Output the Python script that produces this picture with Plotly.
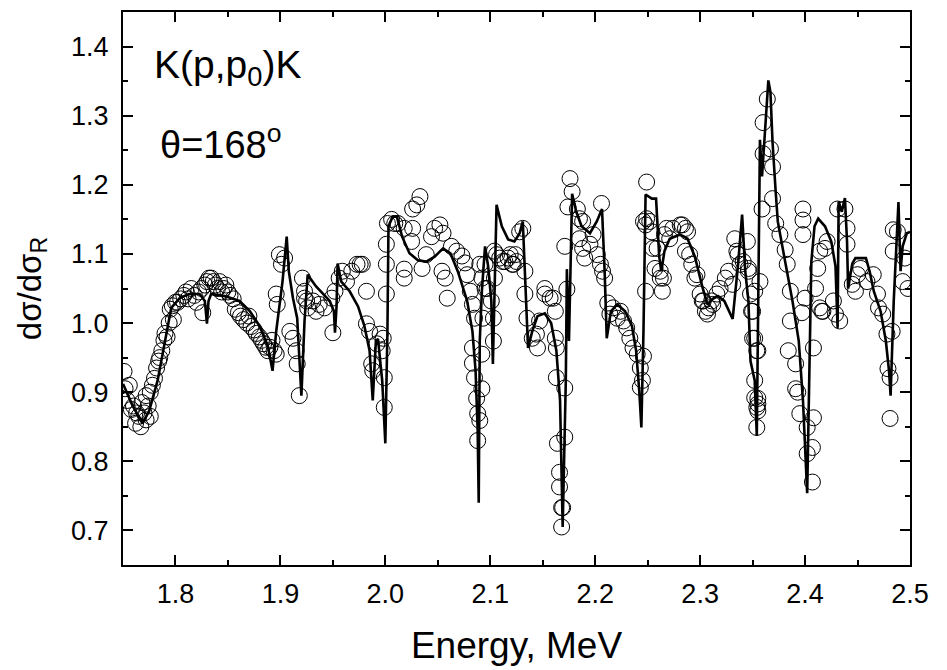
import plotly.graph_objects as go

# ---- fitted curve (R-matrix calculation) ----
curve_E = [1.750, 1.759, 1.7685, 1.775, 1.783, 1.789, 1.796, 1.804, 1.813, 1.823, 1.828, 1.830, 1.8315, 1.834,
           1.847, 1.861, 1.871, 1.880, 1.888, 1.8925, 1.896, 1.902, 1.906, 1.908, 1.912, 1.916, 1.920, 1.923,
           1.926, 1.934, 1.947, 1.951, 1.952, 1.9535, 1.9545, 1.958, 1.966, 1.974, 1.980, 1.985, 1.988, 1.991,
           1.993, 1.997, 2.000, 2.002, 2.003, 2.007, 2.011, 2.016, 2.023, 2.031, 2.039, 2.047, 2.055, 2.062,
           2.069, 2.078, 2.083, 2.086, 2.088, 2.089, 2.090, 2.092, 2.095, 2.098, 2.101, 2.1025, 2.1045, 2.106,
           2.111, 2.117, 2.123, 2.128, 2.131, 2.133, 2.136, 2.140, 2.145, 2.152, 2.158, 2.163, 2.1665, 2.169,
           2.172, 2.173, 2.175, 2.178, 2.182, 2.187, 2.195, 2.2015, 2.2065, 2.209, 2.211, 2.215, 2.221, 2.2285,
           2.235, 2.239, 2.242, 2.244, 2.246, 2.248, 2.254, 2.258, 2.261, 2.263, 2.266, 2.271, 2.281, 2.288,
           2.295, 2.302, 2.307, 2.312, 2.317, 2.323, 2.328, 2.331, 2.336, 2.340, 2.343, 2.346, 2.348, 2.352,
           2.354, 2.356, 2.357, 2.359, 2.361, 2.365, 2.367, 2.369, 2.372, 2.374, 2.381, 2.388, 2.394, 2.398,
           2.402, 2.404, 2.406, 2.409, 2.4125, 2.419, 2.425, 2.429, 2.431, 2.432, 2.435, 2.438, 2.440, 2.441,
           2.445, 2.448, 2.458, 2.4615, 2.4655, 2.472, 2.477, 2.480, 2.4815, 2.4845, 2.487, 2.489, 2.491, 2.493,
           2.497, 2.500]
curve_v = [0.912, 0.881, 0.855, 0.873, 0.917, 0.967, 1.022, 1.036, 1.042, 1.042, 1.032, 0.999, 1.032, 1.042,
           1.039, 1.032, 1.017, 0.996, 0.967, 0.931, 0.988, 1.060, 1.125, 1.075, 1.036, 1.007, 0.895, 1.003,
           1.070, 1.053, 1.032, 1.017, 0.986, 1.024, 1.086, 1.060, 1.046, 1.024, 0.996, 0.960, 0.888, 0.974,
           0.977, 0.917, 0.826, 0.988, 1.140, 1.154, 1.154, 1.125, 1.101, 1.091, 1.089, 1.096, 1.108, 1.101,
           1.075, 1.032, 0.988, 0.931, 0.845, 0.740, 0.974, 1.046, 1.111, 1.082, 1.032, 0.941, 1.075, 1.171,
           1.140, 1.121, 1.118, 1.130, 1.147, 1.075, 0.964, 0.988, 1.010, 1.014, 1.000, 0.960, 0.888, 0.705,
           0.917, 1.078, 0.974, 1.187, 1.161, 1.140, 1.130, 1.147, 1.165, 1.075, 0.978, 1.017, 1.027, 1.017,
           0.996, 0.960, 0.902, 0.849, 0.988, 1.186, 1.180, 1.180, 1.096, 1.075, 1.104, 1.122, 1.128, 1.122,
           1.096, 1.053, 1.027, 1.035, 1.039, 1.032, 1.017, 1.006, 1.082, 1.157, 1.075, 1.032, 0.945, 0.917,
           0.837, 1.176, 1.265, 1.212, 1.262, 1.351, 1.334, 1.262, 1.190, 1.147, 1.089, 1.032, 0.974, 0.888,
           0.754, 0.917, 1.089, 1.140, 1.151, 1.140, 1.118, 1.082, 0.993, 1.176, 1.161, 1.181, 1.118, 1.050,
           1.086, 1.094, 1.094, 1.075, 1.046, 1.017, 0.974, 0.931, 0.895, 1.032, 1.118, 1.175, 1.075, 1.111,
           1.130, 1.132]

exp_E = [
    # 1.75 - 1.80
    1.751, 1.752, 1.754, 1.756, 1.758, 1.760, 1.762, 1.763, 1.765, 1.767, 1.768, 1.770, 1.772, 1.772, 1.774,
    1.776, 1.776, 1.778, 1.780, 1.782, 1.784, 1.785, 1.787, 1.789, 1.790, 1.792, 1.794, 1.795, 1.797, 1.798, 1.800,
    # 1.80 - 1.85
    1.802, 1.805, 1.808, 1.810, 1.812, 1.815, 1.818, 1.820, 1.822, 1.825, 1.826, 1.828, 1.830, 1.832, 1.834,
    1.836, 1.838, 1.840, 1.842, 1.844, 1.846, 1.848, 1.850,
    # 1.85 - 1.93
    1.852, 1.855, 1.857, 1.860, 1.862, 1.865, 1.868, 1.870, 1.872, 1.875, 1.877, 1.880, 1.882, 1.884, 1.886,
    1.888, 1.890, 1.892, 1.894, 1.896, 1.899, 1.901, 1.904, 1.896, 1.897, 1.909, 1.912, 1.915, 1.916, 1.918,
    1.921, 1.923, 1.925,
    # 1.92 - 2.01
    1.923, 1.926, 1.931, 1.934, 1.937, 1.942, 1.949, 1.952, 1.950, 1.956, 1.959, 1.963, 1.968, 1.973, 1.976,
    1.978, 1.982, 1.982, 1.985, 1.987, 1.988, 1.992, 1.995, 1.998, 1.997, 1.999, 1.999, 2.001, 2.001, 2.001,
    2.002, 2.006, 2.009,
    # 2.01 - 2.125
    2.012, 2.018, 2.026, 2.026, 2.030, 2.033, 2.018, 2.018, 2.025, 2.035, 2.039, 2.044, 2.047, 2.052, 2.055,
    2.054, 2.057, 2.059, 2.063, 2.068, 2.073, 2.076, 2.078, 2.081, 2.083, 2.085, 2.083, 2.083, 2.085, 2.087,
    2.088, 2.088, 2.090, 2.092, 2.092, 2.093, 2.097, 2.095, 2.101, 2.103, 2.103, 2.104, 2.106, 2.112, 2.117,
    2.122, 2.090, 2.092, 2.095, 2.104, 2.109, 2.114, 2.121, 2.124,
    # 2.12 - 2.31
    2.119, 2.125, 2.128, 2.131, 2.133, 2.133, 2.135, 2.140, 2.145, 2.144, 2.147, 2.152, 2.152, 2.157, 2.160,
    2.162, 2.162, 2.163, 2.163, 2.164, 2.166, 2.166, 2.168, 2.169, 2.168, 2.171, 2.171, 2.173, 2.171, 2.174,
    2.176, 2.178, 2.183, 2.185, 2.188, 2.185, 2.188, 2.190, 2.195, 2.198, 2.202, 2.205, 2.206, 2.207, 2.209,
    2.212, 2.214, 2.217, 2.221, 2.224, 2.227, 2.230, 2.233, 2.236, 2.240, 2.243, 2.245, 2.243, 2.246, 2.248,
    2.248, 2.249, 2.249, 2.254, 2.259, 2.262, 2.264, 2.265, 2.268, 2.271, 2.274, 2.283, 2.288, 2.286, 2.290,
    2.292, 2.297, 2.300, 2.302, 2.305, 2.308, 2.311,
    # 2.24 - 2.50
    2.246, 2.252, 2.255, 2.257, 2.262, 2.266, 2.281, 2.286, 2.295, 2.303, 2.307, 2.312, 2.316, 2.319, 2.324,
    2.327, 2.331, 2.333, 2.335, 2.336, 2.338, 2.345, 2.346, 2.348, 2.349, 2.350, 2.355, 2.352, 2.352, 2.354,
    2.355, 2.354, 2.357, 2.359, 2.360, 2.360, 2.364, 2.367, 2.369, 2.369, 2.372, 2.376, 2.381, 2.383, 2.386,
    2.386, 2.384, 2.391, 2.391, 2.393, 2.395, 2.402, 2.402, 2.407, 2.407, 2.408, 2.408, 2.410, 2.412, 2.398,
    2.398, 2.398, 2.414, 2.419, 2.421, 2.414, 2.417, 2.427, 2.429, 2.433, 2.431, 2.438, 2.440, 2.440, 2.445,
    2.450, 2.453, 2.459, 2.465, 2.469, 2.470, 2.474, 2.478, 2.479, 2.481, 2.481, 2.483, 2.484, 2.488, 2.484,
    2.495, 2.493, 2.498, 2.341, 2.346, 2.352, 2.350, 2.352, 2.354, 2.355, 2.355, 2.400, 2.397, 2.416, 2.448,
]
exp_v = [
    0.930, 0.905, 0.888, 0.910, 0.875, 0.880, 0.855, 0.870, 0.865, 0.850, 0.885, 0.870, 0.860, 0.895, 0.880,
    0.865, 0.900, 0.910, 0.920, 0.935, 0.945, 0.950, 0.960, 0.975, 0.985, 0.980, 1.000, 1.020, 1.025, 1.005, 1.030,
    1.030, 1.035, 1.040, 1.045, 1.035, 1.050, 1.040, 1.030, 1.045, 1.050, 1.015, 1.055, 1.060, 1.065, 1.065,
    1.060, 1.055, 1.050, 1.060, 1.045, 1.050, 1.055, 1.045,
    1.040, 1.035, 1.020, 1.015, 1.010, 1.005, 1.000, 1.010, 0.995, 0.990, 0.985, 0.980, 0.975, 0.970, 0.965,
    0.960, 0.965, 0.975, 0.960, 0.955, 1.099, 1.085, 1.094, 1.042, 1.027, 0.988, 0.978, 0.960, 0.941, 0.895,
    1.065, 1.046, 1.032,
    1.036, 1.022, 1.032, 1.017, 1.027, 1.022, 1.036, 1.046, 0.986, 1.065, 1.075, 1.060, 1.075, 1.085, 1.085,
    1.085, 1.046, 0.999, 0.988, 0.941, 0.931, 0.970, 0.984, 0.978, 0.960, 0.921, 0.878, 1.042, 1.085, 1.114,
    1.144, 1.150, 1.144,
    1.144, 1.137, 1.137, 1.165, 1.171, 1.183, 1.078, 1.065, 1.118, 1.079, 1.099, 1.125, 1.137, 1.142, 1.130,
    1.075, 1.065, 1.036, 1.111, 1.104, 1.097, 1.087, 1.070, 1.046, 1.027, 1.007, 0.964, 0.942, 0.921, 0.891,
    0.869, 0.830, 0.859, 0.905, 0.955, 1.007, 1.050, 1.085, 1.032, 0.974, 1.007, 1.065, 1.099, 1.089, 1.094,
    1.085, 1.085, 1.065, 1.050, 1.104, 1.094, 1.089, 1.085, 1.099,
    1.099, 1.089, 1.132, 1.137, 1.075, 1.042, 1.007, 0.978, 0.964, 0.984, 1.003, 1.050, 1.042, 1.036, 1.036,
    1.017, 0.978, 0.964, 0.921, 0.826, 0.784, 0.763, 0.733, 0.733, 0.705, 0.835, 0.906, 1.049, 1.111, 1.168,
    1.209, 1.190, 1.165, 1.151, 1.147, 1.122, 1.108, 1.094, 1.114, 1.128, 1.099, 1.085, 1.173, 1.075, 1.065,
    1.029, 1.013, 1.022, 1.007, 1.017, 1.003, 0.993, 0.978, 0.964, 0.955, 0.935, 0.917, 0.907, 0.952, 1.046,
    1.142, 1.151, 1.204, 1.132, 1.108, 1.075, 1.046, 1.065, 1.137, 1.122, 1.137, 1.142, 1.132, 1.104, 1.099,
    1.085, 1.070, 1.042, 1.032, 1.017, 1.022, 1.032,
    1.147, 1.147, 1.108, 1.079, 1.065, 1.128, 1.142, 1.137, 1.065, 1.032, 1.013, 1.027, 1.042, 1.050, 1.065,
    1.075, 1.056, 1.122, 1.104, 1.099, 1.085, 1.118, 1.079, 1.042, 1.017, 0.978, 0.960, 0.917, 0.892, 0.878,
    0.883, 0.849, 1.060, 1.165, 1.245, 1.290, 1.324, 1.252, 1.226, 1.180, 1.144, 1.128, 1.106, 1.085, 1.046,
    1.003, 0.960, 0.941, 0.905, 0.900, 0.869, 0.849, 0.811, 0.820, 0.770, 0.863, 0.964, 1.050, 1.079, 1.165,
    1.149, 1.128, 1.104, 1.108, 1.118, 1.022, 1.017, 1.032, 1.013, 1.003, 1.165, 1.165, 1.137, 1.114, 1.056,
    1.070, 1.079, 1.060, 1.070, 1.042, 1.022, 1.013, 0.984, 0.934, 0.921, 0.862, 0.988, 1.135, 1.132, 1.104,
    1.094, 1.060, 1.050, 1.089, 1.075, 1.046, 1.017, 0.978, 0.960, 0.891, 0.873, 1.036, 1.015, 1.017, 1.046,
]

x_ticks = [1.8, 1.9, 2.0, 2.1, 2.2, 2.3, 2.4, 2.5]
y_ticks = [0.7, 0.8, 0.9, 1.0, 1.1, 1.2, 1.3, 1.4]

FONT = "Arial, Liberation Sans, Helvetica, sans-serif"

fig = go.Figure()
fig.add_trace(go.Scatter(
    x=exp_E, y=exp_v, mode="markers",
    marker=dict(symbol="circle-open", size=16, color="black", line=dict(width=1, color="black")),
    showlegend=False, hoverinfo="skip"))
fig.add_trace(go.Scatter(
    x=curve_E, y=curve_v, mode="lines",
    line=dict(color="black", width=2.6),
    showlegend=False, hoverinfo="skip"))

axis_common = dict(
    showline=True, linecolor="black", linewidth=2, mirror="allticks",
    ticks="inside", ticklen=10, tickwidth=2, tickcolor="black",
    showgrid=False, zeroline=False,
    tickfont=dict(family=FONT, size=27, color="black"),
)

fig.update_xaxes(range=[1.75, 2.5], tickvals=x_ticks, ticktext=[f"{t:.1f}" for t in x_ticks],
                 ticklabelstandoff=4,
                 minor=dict(ticks="inside", ticklen=5, tickwidth=2, tickcolor="black", dtick=0.05, tick0=1.75),
                 title=dict(text="Energy, MeV", font=dict(family=FONT, size=37, color="black"), standoff=24),
                 **axis_common)
fig.update_yaxes(range=[0.65, 1.45], tickvals=y_ticks, ticktext=[f"{t:.1f}" for t in y_ticks],
                 ticklabelstandoff=7,
                 minor=dict(ticks="inside", ticklen=5, tickwidth=2, tickcolor="black", dtick=0.05, tick0=0.65),
                 title=dict(text="dσ/dσ<sub>R</sub>", font=dict(family=FONT, size=33, color="black"), standoff=20),
                 **axis_common)

fig.add_annotation(xref="paper", yref="paper", x=0.037, y=0.90, xanchor="left", yanchor="middle",
                   text="K(p,p<sub>0</sub>)K", showarrow=False,
                   font=dict(family=FONT, size=39, color="black"))
fig.add_annotation(xref="paper", yref="paper", x=0.044, y=0.765, xanchor="left", yanchor="middle",
                   text="θ=168<sup>o</sup>", showarrow=False,
                   font=dict(family=FONT, size=38, color="black"))

fig.update_layout(width=947, height=670, margin=dict(l=123, r=37, t=10, b=105),
                  paper_bgcolor="white", plot_bgcolor="white")

fig.write_html("out.html")
